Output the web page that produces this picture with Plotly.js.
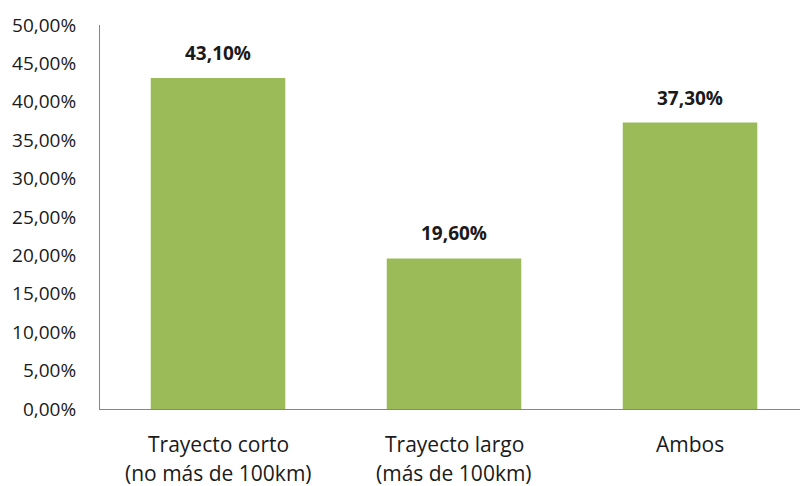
<!DOCTYPE html>
<html>
<head>
<meta charset="utf-8">
<script src="https://cdn.plot.ly/plotly-3.0.1.min.js"></script>
<style>
  html, body { margin: 0; padding: 0; background: #ffffff; }
  #chart { width: 800px; height: 486px; }
</style>
</head>
<body>
<div id="chart"></div>
<script>
// Tipo de trayecto: share of respondents per category
const categories = ['Trayecto corto', 'Trayecto largo', 'Ambos'];
const categoryLine1 = ['Trayecto corto', 'Trayecto largo', 'Ambos'];
const categoryLine2 = ['(no más de 100km)', '(más de 100km)', ''];
const values = [43.1, 19.6, 37.3];
const yTicks = [0, 5, 10, 15, 20, 25, 30, 35, 40, 45, 50];

const fmt = v => v.toFixed(2).replace('.', ',') + '%';

const FONT = 'Open Sans, Noto Sans, sans-serif';
const TEXT = '#1a1a1a';

const trace = {
  type: 'bar',
  x: categories,
  y: values,
  marker: { color: '#9bbb59', line: { width: 0 } },
  hoverinfo: 'skip'
};

// value labels above each bar
const valueLabels = categories.map((c, i) => ({
  x: c, y: values[i], xref: 'x', yref: 'y',
  text: '<b>' + fmt(values[i]) + '</b>',
  showarrow: false, yanchor: 'bottom', yshift: 10,
  font: { family: FONT, size: 19, color: TEXT }
}));

// two-line category labels below the axis
const catLabels = [];
categories.forEach((c, i) => {
  catLabels.push({
    x: c, y: 0, xref: 'x', yref: 'y', text: categoryLine1[i],
    showarrow: false, yanchor: 'middle', yshift: -35,
    font: { family: FONT, size: 21, color: TEXT }
  });
  if (categoryLine2[i]) {
    catLabels.push({
      x: c, y: 0, xref: 'x', yref: 'y', text: categoryLine2[i],
      showarrow: false, yanchor: 'middle', yshift: -64,
      font: { family: FONT, size: 21, color: TEXT }
    });
  }
});

const layout = {
  width: 800, height: 486,
  margin: { l: 100, r: 0, t: 25, b: 77 },
  paper_bgcolor: '#ffffff',
  plot_bgcolor: '#ffffff',
  bargap: 0.43,
  showlegend: false,
  xaxis: {
    type: 'category',
    range: [-0.5, 2.466],
    showticklabels: false,
    ticks: '',
    showgrid: false,
    zeroline: false,
    showline: true, linecolor: '#868686', linewidth: 1
  },
  yaxis: {
    range: [0, 50],
    tickvals: yTicks,
    ticktext: yTicks.map(fmt),
    ticks: '',
    ticklabelstandoff: 19,
    showgrid: false,
    zeroline: false,
    showline: true, linecolor: '#868686', linewidth: 1,
    tickfont: { family: FONT, size: 19, color: TEXT }
  },
  annotations: valueLabels.concat(catLabels)
};

Plotly.newPlot('chart', [trace], layout, { displayModeBar: false, staticPlot: true });
</script>
</body>
</html>
